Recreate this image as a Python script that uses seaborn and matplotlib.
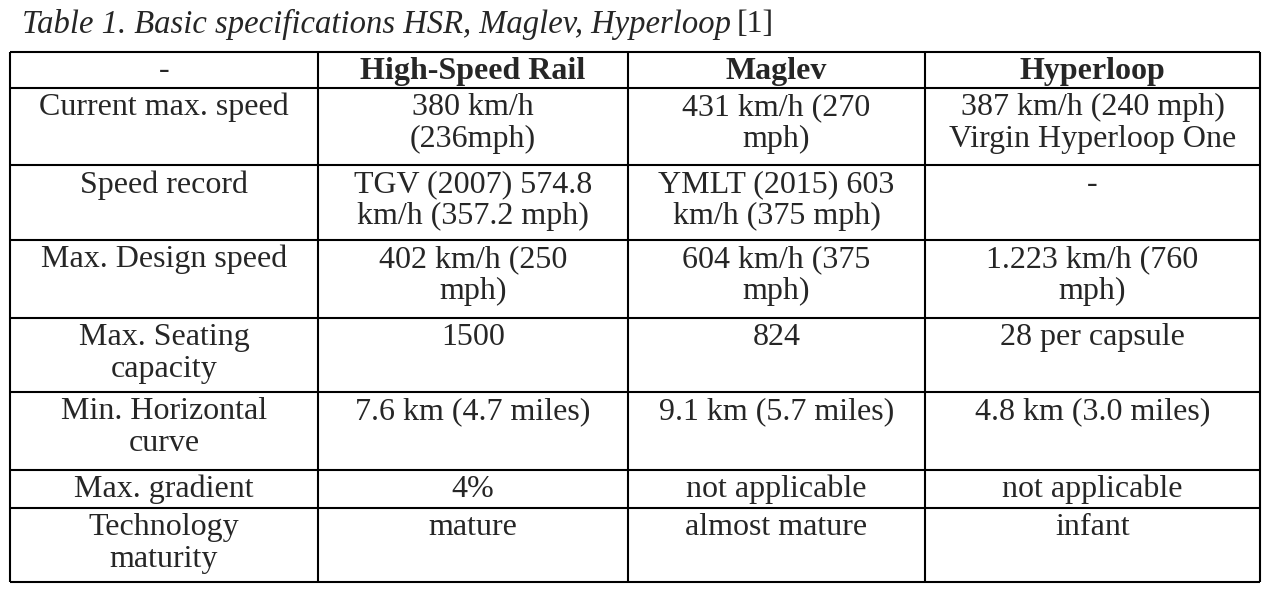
import matplotlib
matplotlib.use("Agg")
import matplotlib.pyplot as plt
import seaborn as sns

sns.set_theme(style="white")
plt.rcParams['font.family'] = ['Liberation Serif', 'DejaVu Serif']

title = "Table 1. Basic specifications HSR, Maglev, Hyperloop"
title_ref = "[1]"
header = ["-", "High-Speed Rail", "Maglev", "Hyperloop"]
row_labels = ["Current max. speed", "Speed record", "Max. Design speed",
              "Max. Seating\ncapacity", "Min. Horizontal\ncurve", "Max. gradient",
              "Technology\nmaturity"]
hsr = ["380 km/h\n(236mph)", "TGV (2007) 574.8\nkm/h (357.2 mph)", "402 km/h (250\nmph)",
       "1500", "7.6 km (4.7 miles)", "4%", "mature"]
maglev = ["431 km/h (270\nmph)", "YMLT (2015) 603\nkm/h (375 mph)", "604 km/h (375\nmph)",
          "824", "9.1 km (5.7 miles)", "not applicable", "almost mature"]
hyperloop = ["387 km/h (240 mph)\nVirgin Hyperloop One", "-", "1.223 km/h (760\nmph)",
             "28 per capsule", "4.8 km (3.0 miles)", "not applicable", "infant"]

col_edges = [10, 318, 628, 925, 1260]
row_edges = [52, 88, 165, 240, 318, 392, 470, 508, 582]

fig = plt.figure(figsize=(12.7, 5.91), dpi=100)
ax = fig.add_axes([0, 0, 1, 1])
ax.set_xlim(0, 1270)
ax.set_ylim(591, 0)
ax.axis("off")

ax.hlines(row_edges, col_edges[0], col_edges[-1], color="black", lw=1.5)
ax.vlines(col_edges, row_edges[0], row_edges[-1], color="black", lw=1.5)

fs = 23
ax.text(22, 24, title, fontsize=23.5, style="italic", va="center", ha="left")
ax.text(737, 24, title_ref, fontsize=fs, va="center", ha="left")

centers = [(col_edges[i] + col_edges[i + 1]) / 2 for i in range(4)]
for i, h in enumerate(header):
    ax.text(centers[i], (row_edges[0] + row_edges[1]) / 2 + 1, h, fontsize=fs,
            fontweight="bold" if i > 0 else "normal", ha="center", va="center")

cols = [row_labels, hsr, maglev, hyperloop]
for r in range(len(row_labels)):
    top = row_edges[r + 1] + 5
    for c in range(4):
        ax.text(centers[c], top, cols[c][r], fontsize=fs, ha="center", va="top",
                linespacing=1.12)

fig.savefig("out.png", dpi=100, facecolor="white")
